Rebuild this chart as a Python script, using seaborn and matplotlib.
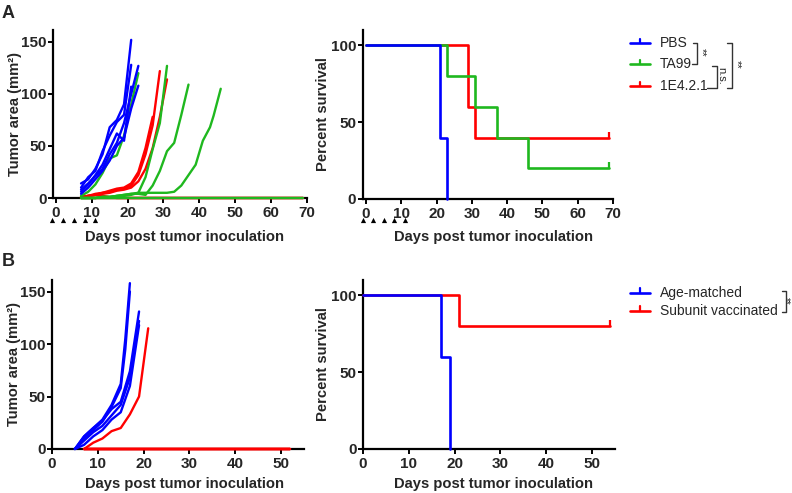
import matplotlib
matplotlib.use("Agg")
import matplotlib.pyplot as plt
import pandas as pd
import seaborn as sns
from matplotlib.lines import Line2D

sns.set_style("ticks")
plt.rcParams["font.family"] = ["Liberation Sans", "DejaVu Sans"]

BLUE = "#0000ff"
GREEN = "#1fb81f"
RED = "#ff0000"

# ---------------------------------------------------------------------------
# Panel A: tumour growth per mouse (day, area mm2)
# ---------------------------------------------------------------------------
pbs_days = [
    [7, 9, 11, 13, 15, 17, 19, 21],
    [7, 9, 11, 13, 15, 17, 19, 21],
    [7, 9, 11, 13, 15, 17, 19, 21],
    [7, 9, 11, 13, 15, 17, 19, 21, 23],
    [7, 9, 11, 13, 15, 17, 19, 21, 23],
]
pbs_area = [
    [14, 18, 28, 42, 68, 75, 90, 152],
    [10, 20, 26, 45, 60, 73, 80, 128],
    [6, 13, 22, 32, 47, 62, 55, 107],
    [8, 14, 21, 28, 42, 53, 72, 100, 127],
    [4, 10, 18, 26, 36, 50, 58, 86, 108],
]

ta99_days = [
    [7, 9, 11, 13, 15, 17, 19, 21, 23],
    [7, 9, 11, 13, 15, 17, 19, 21, 23, 25, 27, 29, 31],
    [7, 9, 11, 13, 15, 17, 19, 21, 23, 25, 27, 29, 31, 33, 35, 37],
    [7, 9, 11, 13, 15, 17, 19, 21, 23, 25, 27, 29, 31, 33, 35, 37, 39, 41, 43, 44, 46],
    [7, 69],
]
ta99_area = [
    [2, 6, 13, 24, 38, 41, 60, 90, 120],
    [0, 0, 0, 1, 1, 2, 2, 3, 5, 20, 47, 72, 127],
    [0, 0, 0, 1, 1, 2, 3, 4, 4, 3, 12, 26, 45, 53, 80, 109],
    [0, 0, 0, 1, 1, 2, 3, 4, 5, 5, 5, 5, 5, 6, 12, 22, 32, 55, 68, 79, 105],
    [0, 0],
]

e4_days = [
    [7, 9, 11, 13, 15, 17, 19, 21, 23, 25, 27, 29],
    [7, 9, 11, 13, 15, 17, 19, 21, 23, 25, 27, 29, 31],
    [7, 9, 11, 13, 15, 17, 19, 21, 23, 25, 27],
    [7, 9, 11, 13, 15, 17, 69],
    [7, 69],
]
e4_area = [
    [1, 2, 3, 5, 6, 8, 9, 12, 22, 42, 70, 122],
    [1, 2, 3, 4, 5, 7, 8, 10, 16, 28, 48, 78, 114],
    [1, 2, 4, 5, 7, 9, 10, 14, 25, 48, 78],
    [1, 2, 3, 2, 1, 0, 0],
    [0, 0],
]

# ---------------------------------------------------------------------------
# Panel B: tumour growth per mouse
# ---------------------------------------------------------------------------
age_days = [
    [5, 7, 9, 11, 13, 15, 16, 17],
    [5, 7, 9, 11, 13, 15, 16, 17],
    [5, 7, 9, 11, 13, 15, 17, 19],
    [5, 7, 9, 11, 13, 15, 17, 19],
    [5, 7, 9, 11, 13, 15, 17, 19],
]
age_area = [
    [0, 12, 20, 28, 42, 62, 105, 158],
    [0, 10, 18, 26, 40, 58, 95, 150],
    [0, 12, 20, 27, 38, 45, 74, 131],
    [0, 8, 16, 22, 32, 42, 68, 122],
    [0, 4, 12, 18, 28, 35, 60, 118],
]

sub_days = [
    [7, 9, 11, 13, 15, 17, 19, 21],
    [7, 52],
    [7, 52],
    [7, 52],
    [7, 52],
]
sub_area = [
    [0, 6, 10, 17, 20, 33, 50, 115],
    [0, 0],
    [0, 0],
    [0, 0],
    [0, 0],
]

# ---------------------------------------------------------------------------
# Kaplan-Meier step points (day, percent survival)
# ---------------------------------------------------------------------------
km_pbs_day = [0, 21, 23]
km_pbs_pct = [100, 40, 0]
km_ta99_day = [0, 23, 31, 37, 46, 69]
km_ta99_pct = [100, 80, 60, 40, 20, 20]
km_e4_day = [0, 29, 31, 69]
km_e4_pct = [100, 60, 40, 40]
km_age_day = [0, 17, 19]
km_age_pct = [100, 60, 0]
km_sub_day = [0, 21, 54]
km_sub_pct = [100, 80, 80]

dose_days = [-1, 2, 5, 8, 11]

W, H = 792, 493


def px(x, y):
    return x / W, 1 - y / H


def growth_frame(days_list, area_list):
    rows = []
    for i, (days, area) in enumerate(zip(days_list, area_list)):
        for d, a in zip(days, area):
            rows.append({"day": d, "area": a, "mouse": i})
    return pd.DataFrame(rows)


def style_axes(ax, xlim, xticks, ylim, yticks):
    ax.set_xlim(*xlim)
    ax.set_ylim(*ylim)
    ax.set_xticks(xticks)
    ax.set_yticks(yticks)
    sns.despine(ax=ax)
    for side in ("left", "bottom"):
        ax.spines[side].set_linewidth(1.6)
        ax.spines[side].set_color("black")
    ax.tick_params(axis="both", direction="out", length=3.6, width=1.4,
                   labelsize=11, color="black")
    ax.tick_params(axis="x", pad=2)
    ax.tick_params(axis="y", pad=1)
    for lbl in ax.get_xticklabels() + ax.get_yticklabels():
        lbl.set_fontweight("bold")


def growth_panel(ax, groups, xlim, xticks, xlab_pos):
    for days, area, color in groups:
        df = growth_frame(days, area)
        sns.lineplot(data=df, x="day", y="area", units="mouse", estimator=None,
                     sort=False, color=color, lw=1.7, legend=False, ax=ax,
                     clip_on=False, zorder=3)
    style_axes(ax, xlim, xticks, (0, 161), [0, 50, 100, 150])
    ax.set_xlabel("Days post tumor inoculation", fontsize=10.6, fontweight="bold",
                  va="center")
    ax.set_ylabel("Tumor area (mm²)", fontsize=10.6, fontweight="bold", va="center")
    ax.xaxis.set_label_coords(*xlab_pos)
    ax.yaxis.set_label_coords(-0.15, 0.5)


def survival_panel(ax, groups, xlim, xticks, xlab_pos):
    for days, pct, color, censored in groups:
        sns.lineplot(x=days, y=pct, drawstyle="steps-post", color=color, lw=1.9,
                     legend=False, ax=ax, clip_on=False, zorder=3)
        if censored:
            ax.plot(days[-1], pct[-1], marker=2, ms=4, mew=1.6, color=color,
                    clip_on=False, zorder=3)
    style_axes(ax, xlim, xticks, (0, 110), [0, 50, 100])
    ax.set_xlabel("Days post tumor inoculation", fontsize=10.6, fontweight="bold",
                  va="center")
    ax.set_ylabel("Percent survival", fontsize=10.6, fontweight="bold", va="center")
    ax.xaxis.set_label_coords(*xlab_pos)
    ax.yaxis.set_label_coords(-0.158, 0.5)


def dose_marks(ax, y):
    ax.scatter(dose_days, [y] * len(dose_days), marker="^", s=14, color="black",
               transform=ax.get_xaxis_transform(), clip_on=False, linewidths=0)


def legend_block(fig, entries, x0=630, x1=650, tx=660):
    for label, color, y in entries:
        fig.add_artist(Line2D([px(x0, y)[0], px(x1, y)[0]], [px(x0, y)[1]] * 2,
                              color=color, lw=1.9))
        fig.add_artist(Line2D([px((x0 + x1) / 2, y)[0]] * 2,
                              [px(0, y)[1], px(0, y - 4.5)[1]], color=color, lw=1.6))
        fig.text(*px(tx, y), label, fontsize=10, va="center", ha="left")


def bracket(fig, pts, lw=1.0):
    xs = [px(x, y)[0] for x, y in pts]
    ys = [px(x, y)[1] for x, y in pts]
    fig.add_artist(Line2D(xs, ys, color="#333333", lw=lw))


fig = plt.figure(figsize=(W / 100, H / 100), dpi=100)

ax_a1 = fig.add_axes([53.1 / W, (H - 198) / H, 253.6 / W, 167.5 / H])
ax_a2 = fig.add_axes([362.5 / W, (H - 199) / H, 250.5 / W, 169 / H])
ax_b1 = fig.add_axes([52 / W, (H - 449) / H, 252 / W, 169 / H])
ax_b2 = fig.add_axes([363 / W, (H - 449) / H, 252 / W, 169 / H])

growth_panel(ax_a1, [(e4_days, e4_area, RED), (ta99_days, ta99_area, GREEN),
                     (pbs_days, pbs_area, BLUE)],
             (-0.8, 70), range(0, 71, 10), (0.518, -0.23))
survival_panel(ax_a2, [(km_e4_day, km_e4_pct, RED, True),
                       (km_ta99_day, km_ta99_pct, GREEN, True),
                       (km_pbs_day, km_pbs_pct, BLUE, False)],
               (-1, 70), range(0, 71, 10), (0.523, -0.222))
dose_marks(ax_a1, -0.13)
dose_marks(ax_a2, -0.126)

growth_panel(ax_b1, [(age_days, age_area, BLUE), (sub_days, sub_area, RED)],
             (0, 55), range(0, 51, 10), (0.526, -0.207))
survival_panel(ax_b2, [(km_sub_day, km_sub_pct, RED, True),
                       (km_age_day, km_age_pct, BLUE, False)],
               (0, 55), range(0, 51, 10), (0.518, -0.207))

# panel letters
fig.text(*px(2, 18.5), "A", fontsize=13, fontweight="bold", va="baseline")
fig.text(*px(2, 265.5), "B", fontsize=13, fontweight="bold", va="baseline")

# legends with significance brackets
legend_block(fig, [("PBS", BLUE, 43), ("TA99", GREEN, 64), ("1E4.2.1", RED, 86)])
bracket(fig, [(693, 42.7), (697.3, 42.7), (697.3, 64), (691.7, 64)])
fig.text(*px(702, 52), "**", fontsize=8, rotation=-90, ha="center", va="center")
bracket(fig, [(711.7, 66), (716.7, 66), (716.7, 88.3), (706.7, 88.3)])
fig.text(*px(721.5, 76), "n.s.", fontsize=8, rotation=-90, ha="center", va="center")
bracket(fig, [(726.7, 42.7), (731.7, 42.7), (731.7, 88.3), (726.7, 88.3)])
fig.text(*px(736.5, 64), "**", fontsize=8, rotation=-90, ha="center", va="center")

legend_block(fig, [("Age-matched", BLUE, 292.7), ("Subunit vaccinated", RED, 310.7)])
bracket(fig, [(782, 290.7), (785.5, 290.7), (785.5, 311.7), (781.7, 311.7)])
fig.text(*px(785.5, 301), "**", fontsize=7, rotation=-90, ha="center", va="center")

fig.savefig("out.png", dpi=100)
